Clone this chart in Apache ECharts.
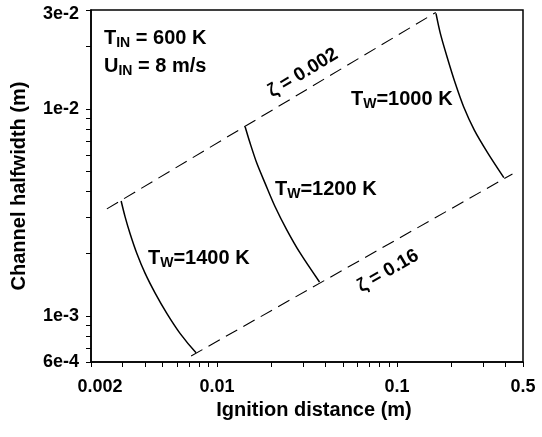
<!DOCTYPE html>
<html>
<head>
<meta charset="utf-8">
<script src="https://cdn.jsdelivr.net/npm/echarts@6/dist/echarts.min.js"></script>
<style>
  html, body { margin: 0; padding: 0; background: #ffffff; }
  #chart { width: 542px; height: 437px; }
</style>
</head>
<body>
<div id="chart"></div>
<script>
// axis labels and ticks (log axes)
const xLabelValues = [0.002, 0.01, 0.1, 0.5];
const xLabelText = ['0.002', '0.01', '0.1', '0.5'];
const yLabelValues = [6e-4, 1e-3, 1e-2, 3e-2];
const yLabelText = ['6e-4', '1e-3', '1e-2', '3e-2'];
const xTickValues = [0.002, 0.003, 0.004, 0.005, 0.006, 0.007, 0.008, 0.009,
  0.01, 0.02, 0.03, 0.04, 0.05, 0.06, 0.07, 0.08, 0.09,
  0.1, 0.2, 0.3, 0.4, 0.5];
const yTickValues = [6e-4, 7e-4, 8e-4, 9e-4,
  1e-3, 2e-3, 3e-3, 4e-3, 5e-3, 6e-3, 7e-3, 8e-3, 9e-3,
  1e-2, 2e-2, 3e-2];

// constant ζ lines (dashed)
const zeta002 = [[0.00245, 0.00329], [0.164, 0.0292]];
const zeta016 = [[0.00719, 0.000641], [0.437, 0.00485]];

// wall temperature curves [ignition distance, channel halfwidth]
const tw1400 = [[0.00294, 0.00359], [0.00309, 0.00302], [0.00329, 0.00251], [0.00359, 0.00201],
  [0.00399, 0.00161], [0.00454, 0.00129], [0.00527, 0.00103], [0.00624, 0.000825], [0.00766, 0.000665]];
const tw1200 = [[0.01434, 0.00820], [0.01529, 0.00682], [0.01666, 0.00546], [0.01852, 0.00437],
  [0.02104, 0.00337], [0.02446, 0.00260], [0.0290, 0.00201], [0.0371, 0.00146]];
const tw1000 = [[0.1644, 0.0289], [0.1738, 0.02315], [0.1893, 0.01785], [0.2104, 0.01328],
  [0.2341, 0.01024], [0.2684, 0.00790], [0.3190, 0.00612], [0.3914, 0.00466]];

const FONT = '"Liberation Sans", Arial, Helvetica, sans-serif';

const pickLabel = (values, texts, v) => {
  let best = 0;
  values.forEach((u, i) => {
    if (Math.abs(Math.log(u) - Math.log(v)) < Math.abs(Math.log(values[best]) - Math.log(v))) best = i;
  });
  return texts[best];
};

const curve = (data) => ({
  type: 'line',
  data: data,
  showSymbol: false,
  smooth: 0.3,
  lineStyle: { color: '#000', width: 1.5 },
  silent: true
});

const dashed = (data) => ({
  type: 'line',
  data: data,
  showSymbol: false,
  lineStyle: { color: '#000', width: 1.1, type: [13, 7] },
  silent: true
});

const subLabel = (x, y, main, sub, rest) => ({
  type: 'text',
  x: x,
  y: y,
  style: {
    text: '{m|' + main + '}{s|' + sub + '}{m|' + rest + '}',
    fill: '#000',
    rich: {
      m: { fontSize: 20, fontWeight: 'bold', fontFamily: FONT, fill: '#000' },
      s: { fontSize: 14, fontWeight: 'bold', fontFamily: FONT, fill: '#000', padding: [9, 0, 0, 0] }
    }
  }
});

const zetaLabel = (x, y, text, angle) => ({
  type: 'text',
  x: x,
  y: y,
  rotation: angle * Math.PI / 180,
  style: {
    text: text,
    fill: '#000',
    font: 'bold 19px ' + FONT,
    align: 'center',
    verticalAlign: 'middle'
  }
});

const chart = echarts.init(document.getElementById('chart'));

chart.setOption({
  backgroundColor: '#ffffff',
  animation: false,
  grid: {
    left: 91, right: 19, top: 10, bottom: 75,
    show: true, borderColor: '#000', borderWidth: 1.5
  },
  xAxis: {
    type: 'log',
    min: 0.002,
    max: 0.5,
    name: 'Ignition distance (m)',
    nameLocation: 'middle',
    nameGap: 36,
    nameTextStyle: { fontSize: 20, fontWeight: 'bold', fontFamily: FONT, color: '#000', padding: [0, 0, 0, 14] },
    axisLine: { lineStyle: { color: '#000', width: 1.5 } },
    axisTick: { show: true, length: 5, customValues: xTickValues, lineStyle: { color: '#000', width: 1 } },
    minorTick: { show: false },
    splitLine: { show: false },
    axisLabel: {
      customValues: xLabelValues,
      margin: 16,
      fontSize: 18,
      fontWeight: 'bold',
      fontFamily: FONT,
      color: '#000',
      formatter: (v) => {
        const t = pickLabel(xLabelValues, xLabelText, v);
        return t === xLabelText[0] ? '{first|' + t + '}' : t;
      },
      rich: {
        first: { fontSize: 18, fontWeight: 'bold', fontFamily: FONT, color: '#000', padding: [0, 0, 0, 18] }
      }
    }
  },
  yAxis: {
    type: 'log',
    min: 6e-4,
    max: 3e-2,
    name: 'Channel halfwidth (m)',
    nameLocation: 'middle',
    nameGap: 62,
    nameTextStyle: { fontSize: 20, fontWeight: 'bold', fontFamily: FONT, color: '#000' },
    axisLine: { lineStyle: { color: '#000', width: 1.5 } },
    axisTick: { show: true, length: 5, customValues: yTickValues, lineStyle: { color: '#000', width: 1 } },
    minorTick: { show: false },
    splitLine: { show: false },
    axisLabel: {
      customValues: yLabelValues,
      margin: 12,
      fontSize: 18,
      fontWeight: 'bold',
      fontFamily: FONT,
      color: '#000',
      formatter: (v) => {
        const t = pickLabel(yLabelValues, yLabelText, v);
        return t === yLabelText[3] ? '{top|' + t + '}' : t;
      },
      rich: {
        top: { fontSize: 18, fontWeight: 'bold', fontFamily: FONT, color: '#000', padding: [8, 0, 0, 0] }
      }
    }
  },
  series: [
    dashed(zeta002),
    dashed(zeta016),
    curve(tw1400),
    curve(tw1200),
    curve(tw1000)
  ],
  graphic: [
    subLabel(104, 27, 'T', 'IN', ' = 600 K'),
    subLabel(104, 55, 'U', 'IN', ' = 8 m/s'),
    subLabel(351, 88, 'T', 'W', '=1000 K'),
    subLabel(275, 178, 'T', 'W', '=1200 K'),
    subLabel(148, 247, 'T', 'W', '=1400 K'),
    zetaLabel(303, 73, 'ζ = 0.002', 31),
    zetaLabel(388, 271, 'ζ = 0.16', 30)
  ]
});
</script>
</body>
</html>
